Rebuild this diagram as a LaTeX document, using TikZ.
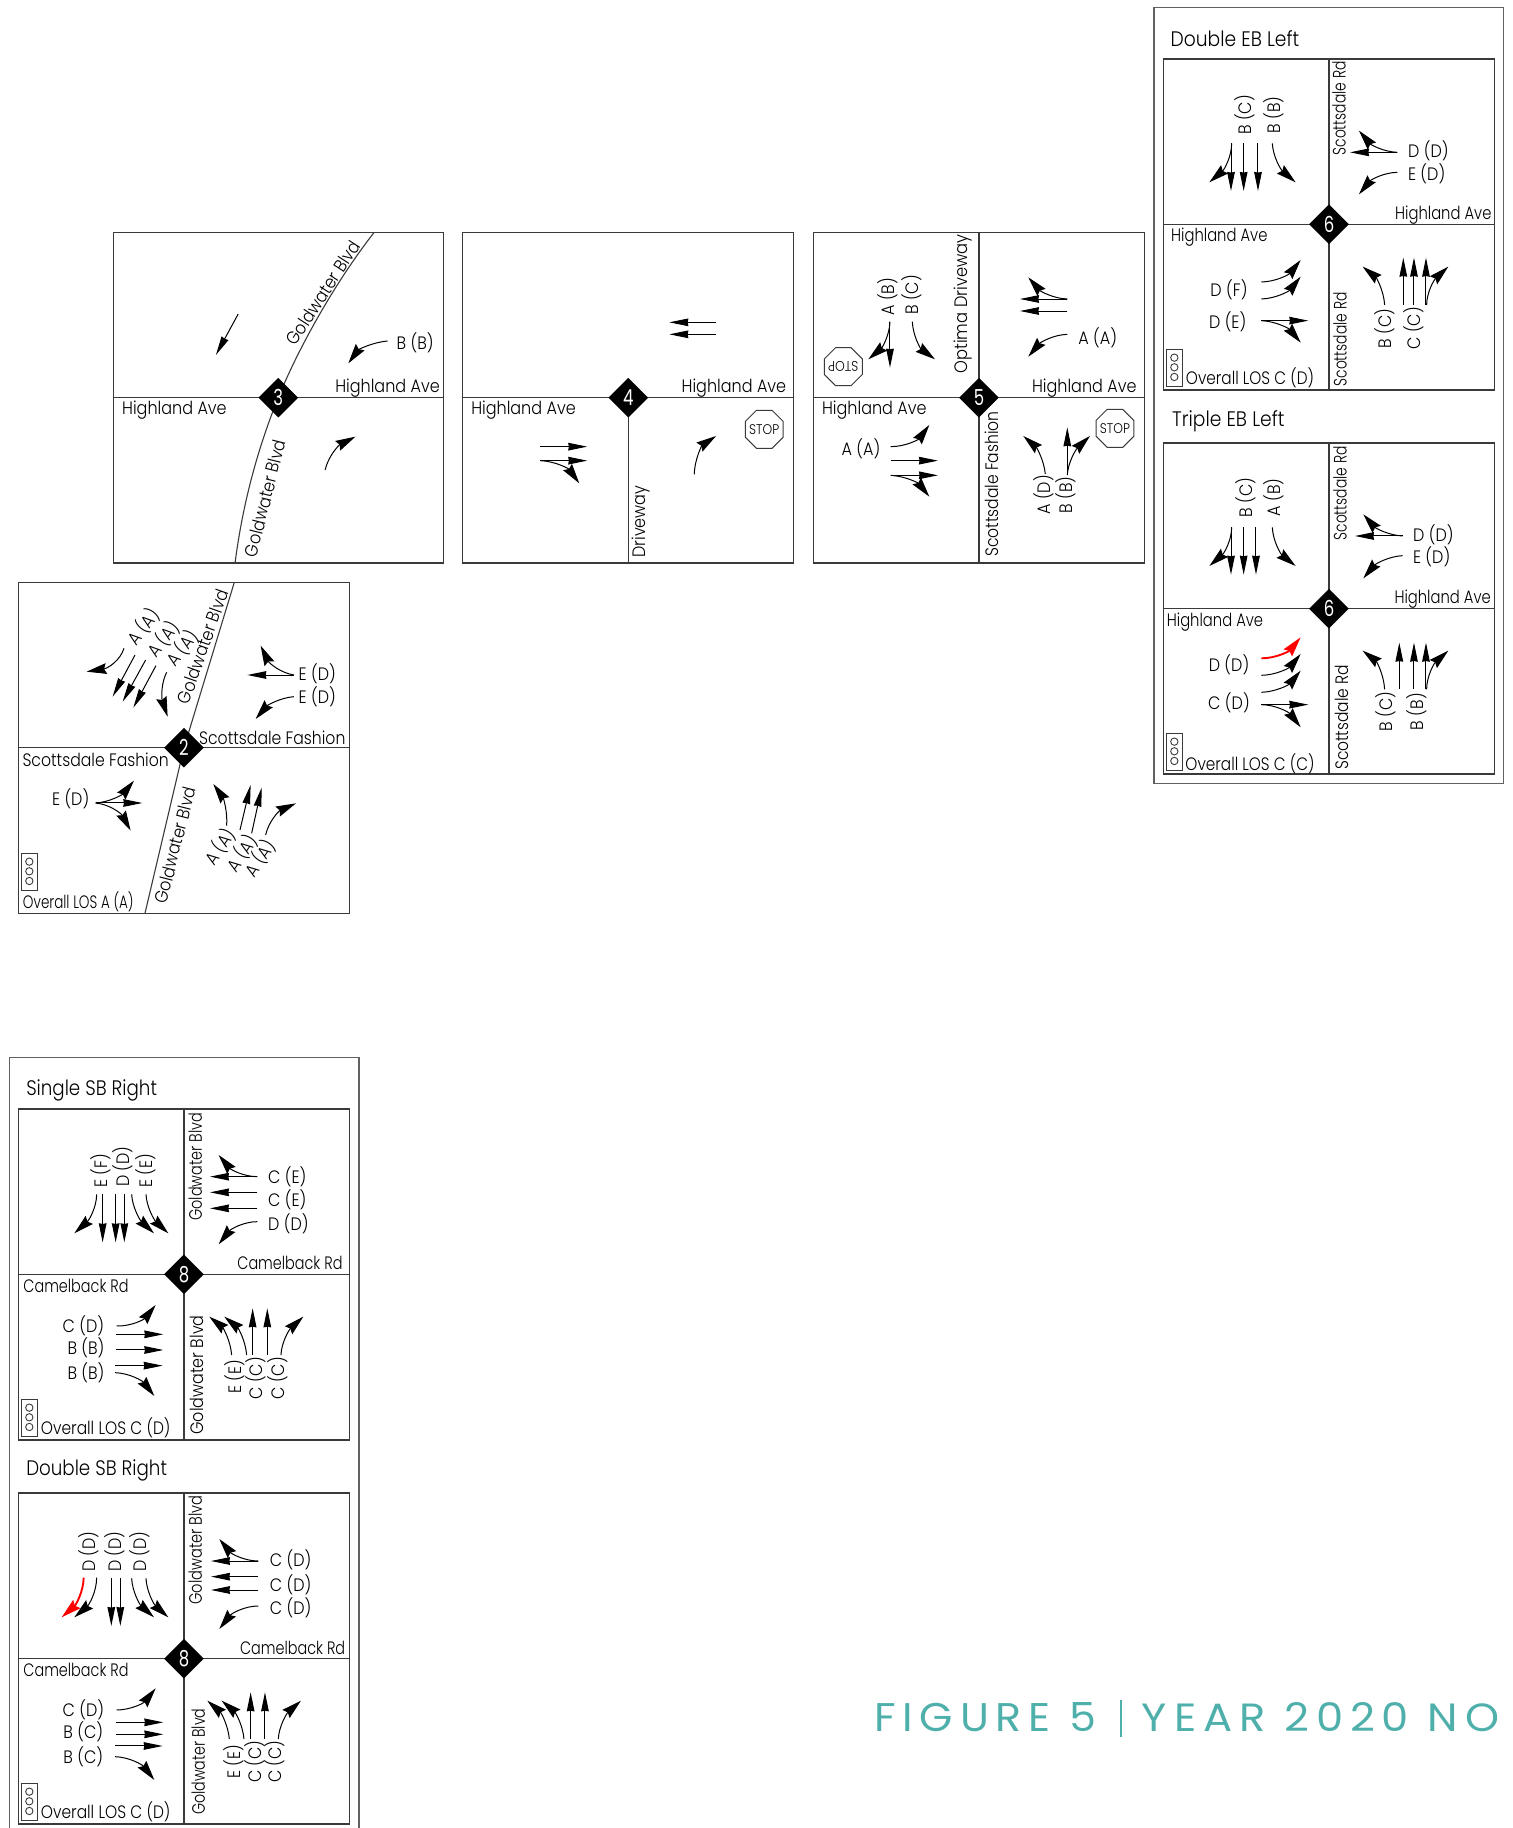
\documentclass[tikz,border=0pt]{standalone}
\usepackage{fontspec}
\usepackage{graphicx}
\setmainfont{Poppins Light}
\newfontfamily\figfont{Poppins}[LetterSpace=16]
\newfontfamily\digf{Poppins}
\usetikzlibrary{arrows.meta,shapes.geometric,calc}
\definecolor{teal5}{HTML}{4FB0AB}
\definecolor{rdl}{HTML}{3A3A3A}
\newcounter{tn}
\newcommand\Lbs[5][0]{\stepcounter{tn}\node[txt,rotate=#1,name=t\arabic{tn}] at (#3,#4) {\scalebox{#2}[1]{#5}};}
\newcommand\Lab[4][0]{\Lbs[#1]{.89}{#2}{#3}{#4}}
\newcommand\SA[4]{\draw[arws] (#1,#2)--(#3,#4);}
\newcommand\CA[6]{\draw[arw] (#1,#2) .. controls ($(#1,#2)!.667!(#3,#4)$) and ($(#5,#6)!.667!(#3,#4)$) .. (#5,#6);}
\newcommand\RC[6]{\draw[arw,red,line width=.95pt] (#1,#2) .. controls ($(#1,#2)!.667!(#3,#4)$) and ($(#5,#6)!.667!(#3,#4)$) .. (#5,#6);}
\newcommand\SIG[2]{\draw[sigl] (#1,#2) rectangle +(47,110);
  \draw[sigl] (#1+23,#2+25) circle[radius=11] (#1+23,#2+54) circle[radius=11] (#1+23,#2+83) circle[radius=11];}
\newcommand\DG[1]{\scalebox{.75}[1]{\digf #1}}
\newcommand\STP{\makebox[0pt]{\smash{\raisebox{-2.5pt}{\scalebox{.88}[1]{STOP}}}}}
\tikzset{
  txt/.style={inner sep=0pt,font=\fontsize{9}{10}\selectfont,text=black},
  ttl/.style={inner sep=0pt,font=\fontsize{10.5}{12}\selectfont,text=black},
  arw/.style={line width=.5pt,-{Stealth[length=10pt,width=5.4pt,inset=1.2pt]}},
  arws/.style={line width=.5pt,-{Stealth[length=9.5pt,width=3.8pt,inset=.3pt]}},
  road/.style={line width=.55pt,draw=rdl},
  sigl/.style={line width=.45pt,draw=rdl},
  fram/.style={line width=.8pt,draw=black!62},
  dmd/.style={diamond,aspect=1,fill=black,text=white,inner sep=0pt,minimum width=20pt,minimum height=20pt,font=\fontsize{11}{11}\selectfont},
  stopn/.style={regular polygon,regular polygon sides=8,draw=rdl,line width=.5pt,inner sep=0pt,minimum size=20.5pt,font=\fontsize{7}{7}\selectfont}
}
\begin{document}
\begin{tikzpicture}[x=.5pt,y=-.5pt]
\useasboundingbox (0,0) rectangle (1513,1828);
% outer frames
\draw[fram] (1154,7.3) rectangle (1503.3,783.3);
\draw[fram] (9.3,1835) -- (9.3,1057.3) -- (359,1057.3) -- (359,1835);

% ---------- panel 3 and 4
\begin{scope}[shift={(100,220)},xscale=.4458,yscale=.3333]
\draw[road] (30,37) rectangle (771,1029);
\draw[road] (30,533) -- (771,533);
\draw[road] (615,37) .. controls (520,200) and (440,400) .. (400,533) .. controls (355,680) and (320,850) .. (303,1029);
\node[dmd] (n3) at (400,533) {\DG{3}};
\Lab[57]{500}{218}{Goldwater Blvd}
\Lab[76]{370}{835}{Goldwater Blvd}
\Lab{707}{368}{B (B)}
\Lab{645}{504}{Highland Ave}
\Lab{167}{571}{Highland Ave}
\SA{310}{282}{260}{405}
\CA{645}{363}{590}{370}{557}{430}
\CA{505}{750}{515}{690}{573}{650}
% panel 4
\draw[road] (814,37) rectangle (1555,1029);
\draw[road] (814,533) -- (1555,533);
\draw[road] (1185,533) -- (1185,1029);
\node[dmd] (n4) at (1185,533) {\DG{4}};
\Lab{1422}{504}{Highland Ave}
\Lab{950}{571}{Highland Ave}
\Lab[90]{1214}{905}{Driveway}
\SA{1382}{307}{1277}{307}
\SA{1382}{343}{1277}{343}
\SA{988}{680}{1093}{680}
\SA{988}{722}{1093}{722}
\CA{988}{722}{1040}{725}{1075}{790}
\CA{1333}{763}{1335}{690}{1382}{648}
\node[stopn] (s4) at (1490,628) {\STP};
\end{scope}

% ---------- panel 5
\begin{scope}[shift={(800,220)},scale=.3333]
\draw[road] (40,37) rectangle (1033,1029);
\draw[road] (40,533) -- (1033,533);
\draw[road] (537,37) -- (537,1029);
\node[dmd] (n5) at (537,533) {\DG{5}};
\Lbs[90]{.905}{490}{252}{Optima Driveway}
\Lbs[90]{.865}{575}{792}{Scottsdale Fashion}
\Lab{853}{504}{Highland Ave}
\Lab{223}{571}{Highland Ave}
\Lab{893}{352}{A (A)}
\Lab{183}{686}{A (A)}
\Lab[90]{262}{230}{A (B)}
\Lab[90]{335}{225}{B (C)}
\Lab[90]{730}{825}{A (D)}
\Lab[90]{797}{825}{B (B)}
\CA{270}{305}{268}{365}{205}{418}
\SA{270}{305}{270}{443}
\CA{337}{305}{340}{370}{405}{418}
\SA{802}{237}{660}{237}
\SA{802}{273}{660}{273}
\CA{802}{237}{740}{235}{685}{172}
\CA{802}{343}{740}{345}{685}{410}
\CA{272}{680}{340}{680}{388}{615}
\SA{272}{722}{414}{722}
\SA{272}{766}{414}{766}
\CA{272}{766}{340}{770}{388}{830}
\CA{736}{762}{730}{700}{670}{648}
\SA{802}{765}{802}{622}
\CA{802}{765}{805}{710}{870}{648}
\node[stopn] (s5a) at (945,625) {\STP};
\node[stopn,rotate=180] (s5b) at (130,440) {\STP};
\end{scope}

% ---------- panel 6a
\begin{scope}[shift={(1150,0)},scale=.3333]
\node[ttl] (ti1) at (255,117) {\scalebox{.89}[1]{Double EB Left}};
\draw[road] (40,177) rectangle (1033,1170);
\draw[road] (40,673) -- (1033,673);
\draw[road] (537,177) -- (537,1170);
\node[dmd] (n6a) at (537,673) {\DG{6}};
\Lbs[90]{.77}{567}{325}{Scottsdale Rd}
\Lbs[90]{.77}{570}{1018}{Scottsdale Rd}
\Lbs{.82}{880}{644}{Highland Ave}
\Lbs{.82}{208}{712}{Highland Ave}
\Lab[90]{283}{345}{B (C)}
\Lab[90]{370}{345}{B (B)}
\Lab{835}{452}{D (D)}
\Lab{830}{520}{E (D)}
\Lab{237}{870}{D (F)}
\Lab{233}{965}{D (E)}
\Lab[90]{703}{985}{B (C)}
\Lab[90]{790}{985}{C (C)}
\Lbs{.85}{300}{1133}{Overall LOS C (D)}
\SIG{50}{1048}
\CA{245}{430}{245}{490}{178}{547}
\SA{243}{430}{243}{573}
\SA{281}{430}{281}{573}
\SA{324}{430}{324}{573}
\CA{367}{430}{370}{490}{437}{547}
\SA{742}{457}{600}{457}
\CA{742}{457}{680}{455}{627}{392}
\CA{742}{517}{680}{518}{627}{583}
\CA{334}{846}{400}{845}{452}{780}
\CA{334}{897}{400}{895}{452}{830}
\SA{334}{962}{475}{962}
\CA{334}{962}{400}{965}{452}{1028}
\CA{704}{915}{700}{850}{638}{800}
\SA{760}{915}{760}{773}
\SA{792}{915}{792}{773}
\SA{828}{915}{828}{773}
\CA{830}{915}{830}{860}{895}{800}
\end{scope}

% ---------- panel 6b
\begin{scope}[shift={(1150,400)},scale=.3333]
\node[ttl] (ti2) at (235,64) {\scalebox{.89}[1]{Triple EB Left}};
\draw[road] (40,129) rectangle (1033,1122);
\draw[road] (40,626) -- (1033,626);
\draw[road] (537,129) -- (537,1122);
\node[dmd] (n6b) at (537,626) {\DG{6}};
\Lbs[90]{.77}{570}{280}{Scottsdale Rd}
\Lbs[90]{.86}{575}{952}{Scottsdale Rd}
\Lbs{.82}{878}{596}{Highland Ave}
\Lbs{.82}{195}{666}{Highland Ave}
\Lab[90]{287}{292}{B (C)}
\Lab[90]{370}{292}{A (B)}
\Lab{850}{405}{D (D)}
\Lab{845}{470}{E (D)}
\Lab{237}{795}{D (D)}
\Lab{237}{908}{C (D)}
\Lab[90]{706}{935}{B (C)}
\Lab[90]{800}{935}{B (B)}
\Lbs{.85}{300}{1090}{Overall LOS C (C)}
\SIG{50}{1000}
\CA{245}{382}{245}{440}{178}{498}
\SA{243}{382}{243}{524}
\SA{281}{382}{281}{524}
\SA{318}{382}{318}{524}
\CA{367}{382}{370}{445}{437}{498}
\SA{758}{408}{615}{408}
\CA{758}{408}{695}{405}{640}{343}
\CA{758}{467}{695}{470}{640}{535}
\RC{334}{775}{400}{775}{452}{712}
\CA{334}{826}{400}{825}{452}{762}
\CA{334}{877}{400}{875}{452}{812}
\SA{334}{914}{475}{914}
\CA{334}{914}{400}{915}{452}{982}
\CA{704}{868}{700}{800}{638}{752}
\SA{748}{868}{748}{728}
\SA{792}{868}{792}{728}
\SA{828}{868}{828}{728}
\CA{830}{868}{830}{810}{895}{752}
\end{scope}

% ---------- panel 2
\begin{scope}[shift={(10,575)},scale=.3333]
\draw[road] (25,22) rectangle (1018,1015);
\draw[road] (25,518) -- (1018,518);
\draw[road] (673,22) -- (522,518) -- (405,1015);
\node[dmd] (n2) at (522,518) {\DG{2}};
\Lab[70.5]{578}{215}{Goldwater Blvd}
\Lab[75.6]{495}{810}{Goldwater Blvd}
\Lbs{.87}{787}{487}{Scottsdale Fashion}
\Lbs{.87}{257}{553}{Scottsdale Fashion}
\Lab{922}{297}{E (D)}
\Lab{922}{365}{E (D)}
\Lab{182}{672}{E (D)}
\Lab[52]{400}{155}{A (A)}
\Lab[52]{460}{193}{A (A)}
\Lab[52]{517}{220}{A (A)}
\Lab[55]{630}{815}{A (A)}
\Lab[55]{695}{835}{A (A)}
\Lab[55]{750}{850}{A (A)}
\Lbs{.75}{205}{980}{Overall LOS A (A)}
\SIG{35}{835}
\CA{342}{220}{325}{275}{230}{290}
\SA{375}{240}{308}{365}
\SA{407}{255}{338}{380}
\SA{438}{272}{370}{398}
\CA{470}{292}{445}{340}{473}{425}
\SA{852}{300}{712}{300}
\CA{852}{300}{790}{290}{752}{212}
\CA{852}{365}{790}{370}{737}{432}
\SA{257}{684}{397}{684}
\CA{257}{684}{320}{680}{372}{617}
\CA{257}{684}{320}{690}{362}{767}
\CA{650}{752}{655}{690}{610}{627}
\SA{690}{765}{722}{630}
\SA{725}{775}{755}{638}
\CA{767}{780}{780}{720}{858}{685}
\end{scope}

% ---------- panel 8a
\begin{scope}[shift={(0,1050)},scale=.3333]
\node[ttl] (ti3) at (275,121) {\scalebox{.87}[1]{Single SB Right}};
\draw[road] (55,177) rectangle (1048,1170);
\draw[road] (55,673) -- (1048,673);
\draw[road] (552,177) -- (552,1170);
\node[dmd] (n8a) at (552,673) {\DG{8}};
\Lbs[90]{.8}{586}{350}{Goldwater Blvd}
\Lbs[90]{.886}{590}{975}{Goldwater Blvd}
\Lbs{.8}{870}{638}{Camelback Rd}
\Lbs{.8}{228}{708}{Camelback Rd}
\Lab[90]{303}{362}{E (F)}
\Lab[90]{368}{350}{D (D)}
\Lab[90]{437}{362}{E (E)}
\Lab{862}{380}{C (E)}
\Lab{862}{450}{C (E)}
\Lab{865}{522}{D (D)}
\Lab{250}{828}{C (D)}
\Lab{258}{893}{B (B)}
\Lab{258}{968}{B (B)}
\Lab[90]{705}{980}{E (E)}
\Lab[90]{768}{985}{C (C)}
\Lab[90]{833}{985}{C (C)}
\Lbs{.86}{317}{1133}{Overall LOS C (D)}
\SIG{65}{1048}
\CA{290}{433}{290}{490}{223}{550}
\SA{308}{433}{308}{577}
\SA{347}{433}{347}{577}
\SA{373}{433}{373}{577}
\CA{395}{433}{398}{490}{462}{550}
\CA{438}{433}{441}{490}{505}{550}
\SA{772}{380}{630}{380}
\CA{772}{380}{710}{380}{656}{315}
\SA{772}{427}{630}{427}
\SA{772}{475}{630}{475}
\CA{772}{515}{710}{515}{656}{583}
\CA{350}{828}{415}{830}{467}{765}
\SA{348}{853}{490}{853}
\SA{348}{900}{490}{900}
\SA{345}{947}{488}{947}
\CA{345}{968}{410}{970}{463}{1038}
\CA{695}{915}{690}{850}{628}{800}
\CA{740}{915}{735}{850}{673}{800}
\SA{758}{915}{758}{775}
\SA{802}{915}{802}{775}
\CA{843}{915}{845}{860}{910}{800}
\end{scope}

% ---------- panel 8b
\begin{scope}[shift={(0,1440)},scale=.3333]
\node[ttl] (ti4) at (290,91) {\scalebox{.87}[1]{Double SB Right}};
\draw[road] (55,159) rectangle (1048,1152);
\draw[road] (55,656) -- (1048,656);
\draw[road] (552,159) -- (552,1152);
\node[dmd] (n8b) at (552,656) {\DG{8}};
\Lbs[90]{.81}{586}{330}{Goldwater Blvd}
\Lbs[90]{.79}{595}{965}{Goldwater Blvd}
\Lbs{.8}{878}{623}{Camelback Rd}
\Lbs{.8}{228}{690}{Camelback Rd}
\Lab[90]{265}{335}{D (D)}
\Lab[90]{343}{335}{D (D)}
\Lab[90]{420}{335}{D (D)}
\Lab{872}{360}{C (D)}
\Lab{872}{433}{C (D)}
\Lab{872}{503}{C (D)}
\Lab{250}{808}{C (D)}
\Lab{250}{875}{B (C)}
\Lab{250}{950}{B (C)}
\Lab[90]{700}{965}{E (E)}
\Lab[90]{763}{965}{C (C)}
\Lab[90]{825}{965}{C (C)}
\Lbs{.86}{317}{1115}{Overall LOS C (D)}
\SIG{65}{1030}
\RC{251}{413}{250}{475}{185}{532}
\CA{290}{413}{290}{475}{223}{532}
\SA{334}{415}{334}{558}
\SA{361}{415}{361}{558}
\CA{395}{415}{398}{475}{462}{532}
\CA{438}{415}{441}{475}{505}{532}
\SA{775}{363}{633}{363}
\CA{775}{363}{712}{363}{658}{297}
\SA{775}{410}{633}{410}
\SA{775}{450}{633}{450}
\CA{775}{498}{712}{498}{658}{567}
\CA{350}{810}{415}{810}{467}{745}
\SA{348}{847}{490}{847}
\SA{348}{883}{490}{883}
\SA{345}{918}{488}{918}
\CA{345}{950}{410}{952}{463}{1020}
\CA{688}{897}{683}{835}{622}{782}
\CA{732}{897}{727}{835}{665}{782}
\SA{752}{897}{752}{757}
\SA{795}{897}{795}{757}
\CA{835}{897}{838}{840}{903}{782}
\end{scope}

% ---------- caption
\node[inner sep=0pt,text=teal5] (cap1) at (985,1717) {\resizebox{111pt}{14.5pt}{\figfont FIGURE 5}};
\node[inner sep=0pt,text=teal5] (cap2) at (1320.5,1717) {\resizebox{178.5pt}{14.5pt}{\figfont YEAR 2020 NO}};
\coordinate (bar1) at (1121,1700);
\coordinate (bar2) at (1121,1737);
\draw[teal5,line width=.8pt] (bar1) -- (bar2);
\end{tikzpicture}
\end{document}
